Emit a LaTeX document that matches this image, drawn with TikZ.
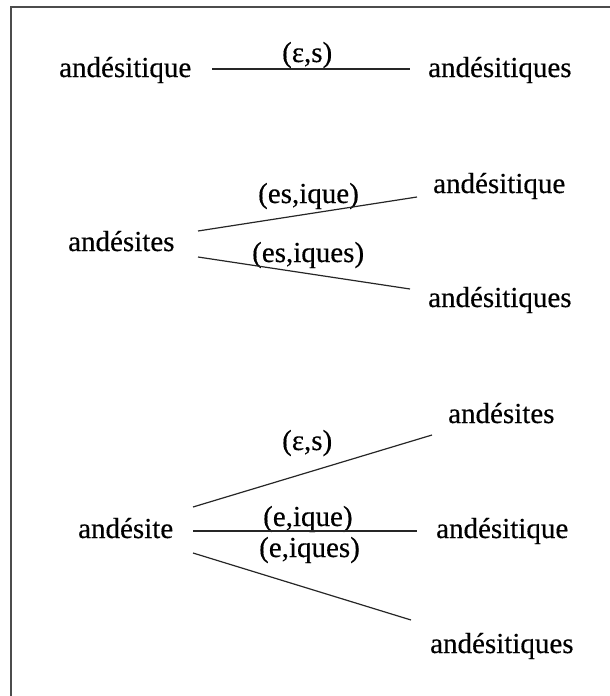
\documentclass[tikz,border=0pt]{standalone}
\usepackage{fontspec}
\setmainfont{Liberation Serif}
\newfontfamily\wordfont{Liberation Serif}[FakeBold=0.4]
\begin{document}
\begin{tikzpicture}[x=1pt,y=-1pt,
  word/.style={inner sep=0pt,anchor=base west,font=\wordfont\fontsize{29}{32}\selectfont},
  lab/.style={inner sep=0pt,anchor=base west,font=\wordfont\fontsize{29}{32}\selectfont},
  edge/.style={line width=1.2pt,black!85}]
\useasboundingbox (0,0) rectangle (610,696);
\draw[line width=2pt,black!70] (10.5,696) -- (10.5,7) -- (610,7);
% row 1
\node[word] (A1) at (59,77) {andésitique};
\node[word] (B1) at (428,77) {andésitiques};
\node[lab] (L1) at (282,62) {(ε,s)};
\draw[edge] ([shift={(153,-8)}]A1.base west) -- ([shift={(-18,-8)}]B1.base west);
% row 2
\node[word] (A2) at (68,251) {andésites};
\node[word] (B2) at (433,193) {andésitique};
\node[word] (C2) at (428,307) {andésitiques};
\node[lab] (L2) at (258,203) {(es,ique)};
\node[lab] (L3) at (252,262) {(es,iques)};
\draw[edge] ([shift={(130,-20)}]A2.base west) -- ([shift={(-16,4)}]B2.base west);
\draw[edge] ([shift={(130,6)}]A2.base west) -- ([shift={(-18,-18)}]C2.base west);
% row 3
\node[word] (A3) at (78,538) {andésite};
\node[word] (B3) at (448,423) {andésites};
\node[word] (C3) at (436,538) {andésitique};
\node[word] (D3) at (430,653) {andésitiques};
\node[lab] (L4) at (282,450) {(ε,s)};
\node[lab] (L5) at (263,526) {(e,ique)};
\node[lab] (L6) at (259,557) {(e,iques)};
\draw[edge] ([shift={(115,-31)}]A3.base west) -- ([shift={(-16,12)}]B3.base west);
\draw[edge] ([shift={(115,-7)}]A3.base west) -- ([shift={(-19,-7)}]C3.base west);
\draw[edge] ([shift={(115,15)}]A3.base west) -- ([shift={(-19,-33)}]D3.base west);
\end{tikzpicture}
\end{document}
